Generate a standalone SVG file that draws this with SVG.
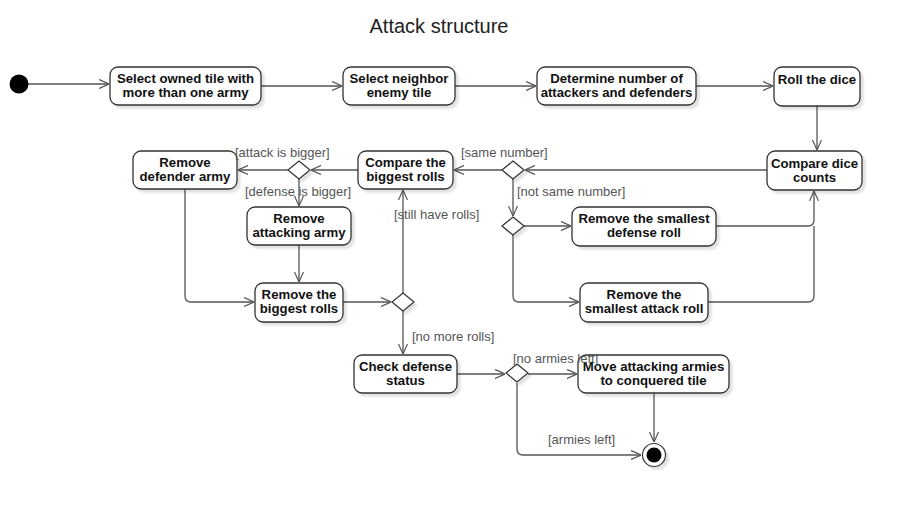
<svg xmlns="http://www.w3.org/2000/svg" width="902" height="508" viewBox="0 0 902 508">
<defs>
<marker id="arr" viewBox="0 0 10 10" refX="10" refY="5" markerWidth="10" markerHeight="10" markerUnits="userSpaceOnUse" orient="auto">
<path d="M0,0.5 L10,5 L0,9.5" fill="none" stroke="#555" stroke-width="1.2"/>
</marker>
<filter id="sh" x="-10%" y="-10%" width="130%" height="140%">
<feOffset dx="3" dy="3" in="SourceAlpha" result="o"/>
<feGaussianBlur in="o" stdDeviation="1.2" result="b"/>
<feComponentTransfer in="b" result="c"><feFuncA type="linear" slope="0.12"/></feComponentTransfer>
<feMerge><feMergeNode in="c"/><feMergeNode in="SourceGraphic"/></feMerge>
</filter>
</defs>
<style>
.n{fill:#fff;stroke:#333;stroke-width:1.3;filter:url(#sh)}
.t{font-family:"Liberation Sans",Arial,sans-serif;font-size:13.2px;font-weight:bold;fill:#111;text-anchor:middle}
.l{font-family:"Liberation Sans",Arial,sans-serif;font-size:13px;fill:#555}
.e{fill:none;stroke:#555;stroke-width:1.3}
.d{fill:#fff;stroke:#333;stroke-width:1.2;filter:url(#sh)}
</style>
<rect width="902" height="508" fill="#fff"/>
<text x="439" y="33" font-family="Liberation Sans,Arial,sans-serif" font-size="20" fill="#222" text-anchor="middle">Attack structure</text>

<g id="connectors">
<path class="e" d="M28,84 H109" marker-end="url(#arr)"/>
<path class="e" d="M261,86 H342" marker-end="url(#arr)"/>
<path class="e" d="M455,86 H536" marker-end="url(#arr)"/>
<path class="e" d="M696,86 H773" marker-end="url(#arr)"/>
<path class="e" d="M817,106 V150" marker-end="url(#arr)"/>
<path class="e" d="M767,170 H525" marker-end="url(#arr)"/>
<path class="e" d="M502,170 H454" marker-end="url(#arr)"/>
<path class="e" d="M513,179 V216" marker-end="url(#arr)"/>
<path class="e" d="M524,226 H571" marker-end="url(#arr)"/>
<path class="e" d="M513,235 V296 Q513,302 519,302 H579" marker-end="url(#arr)"/>
<path class="e" d="M716,226 H808 Q814,226 814,220 V191" marker-end="url(#arr)"/>
<path class="e" d="M708,302 H808 Q814,302 814,296 V226"/>
<path class="e" d="M358,170 H311" marker-end="url(#arr)"/>
<path class="e" d="M288,170 H238" marker-end="url(#arr)"/>
<path class="e" d="M299,179 V206" marker-end="url(#arr)"/>
<path class="e" d="M299,245 V282" marker-end="url(#arr)"/>
<path class="e" d="M185,189 V296 Q185,302 191,302 H254" marker-end="url(#arr)"/>
<path class="e" d="M343,302 H391" marker-end="url(#arr)"/>
<path class="e" d="M403,293 V190" marker-end="url(#arr)"/>
<path class="e" d="M403,311 V354" marker-end="url(#arr)"/>
<path class="e" d="M457,374 H505" marker-end="url(#arr)"/>
<path class="e" d="M528,374 H577" marker-end="url(#arr)"/>
<path class="e" d="M654,393 V442" marker-end="url(#arr)"/>
<path class="e" d="M517,383 V449 Q517,455 523,455 H641" marker-end="url(#arr)"/>
</g>

<g id="start"><circle cx="19" cy="84" r="9.5" fill="#000"/></g>

<g id="n1"><rect class="n" x="110" y="67" width="151" height="38" rx="8"/>
<text class="t" x="185.5" y="83">Select owned tile with</text><text class="t" x="185.5" y="97">more than one army</text></g>
<g id="n2"><rect class="n" x="343" y="67" width="112" height="38" rx="8"/>
<text class="t" x="399" y="83">Select neighbor</text><text class="t" x="399" y="97">enemy tile</text></g>
<g id="n3"><rect class="n" x="537" y="67" width="159" height="38" rx="8"/>
<text class="t" x="616.5" y="83">Determine number of</text><text class="t" x="616.5" y="97">attackers and defenders</text></g>
<g id="n4"><rect class="n" x="774" y="67" width="86" height="39" rx="8"/>
<text class="t" x="817" y="84">Roll the dice</text></g>
<g id="n5"><rect class="n" x="767" y="151" width="95" height="39" rx="8"/>
<text class="t" x="814.5" y="168">Compare dice</text><text class="t" x="814.5" y="182">counts</text></g>
<g id="d1"><path class="d" d="M513,161 L524,170 L513,179 L502,170 Z"/></g>
<g id="n6"><rect class="n" x="358" y="151" width="95" height="38" rx="8"/>
<text class="t" x="405.5" y="167">Compare the</text><text class="t" x="405.5" y="181">biggest rolls</text></g>
<g id="d2"><path class="d" d="M513,217 L524,226 L513,235 L502,226 Z"/></g>
<g id="n7"><rect class="n" x="572" y="207" width="144" height="39" rx="8"/>
<text class="t" x="644" y="223">Remove the smallest</text><text class="t" x="644" y="237">defense roll</text></g>
<g id="n8"><rect class="n" x="580" y="283" width="128" height="39" rx="8"/>
<text class="t" x="644" y="299">Remove the</text><text class="t" x="644" y="313">smallest attack roll</text></g>
<g id="d3"><path class="d" d="M299,161 L310,170 L299,179 L288,170 Z"/></g>
<g id="n9"><rect class="n" x="133" y="151" width="104" height="38" rx="8"/>
<text class="t" x="185" y="167">Remove</text><text class="t" x="185" y="181">defender army</text></g>
<g id="n10"><rect class="n" x="247" y="207" width="104" height="38" rx="8"/>
<text class="t" x="299" y="223">Remove</text><text class="t" x="299" y="237">attacking army</text></g>
<g id="n11"><rect class="n" x="255" y="283" width="88" height="39" rx="8"/>
<text class="t" x="299" y="299">Remove the</text><text class="t" x="299" y="313">biggest rolls</text></g>
<g id="d4"><path class="d" d="M403,293 L414,302 L403,311 L392,302 Z"/></g>
<g id="n12"><rect class="n" x="354" y="355" width="103" height="38" rx="8"/>
<text class="t" x="405.5" y="371">Check defense</text><text class="t" x="405.5" y="385">status</text></g>
<g id="d5"><path class="d" d="M517,364 L528,373 L517,382 L506,373 Z"/></g>
<g id="n13"><rect class="n" x="578" y="355" width="151" height="38" rx="8"/>
<text class="t" x="653.5" y="371">Move attacking armies</text><text class="t" x="653.5" y="385">to conquered tile</text></g>
<g id="end"><circle cx="654" cy="455" r="11.5" fill="#fff" stroke="#333" stroke-width="1.2" filter="url(#sh)"/><circle cx="654" cy="455" r="7.5" fill="#000"/></g>

<g id="labels">
<text class="l" x="235" y="157">[attack is bigger]</text>
<text class="l" x="245" y="196">[defense is bigger]</text>
<text class="l" x="461" y="157">[same number]</text>
<text class="l" x="517" y="196">[not same number]</text>
<text class="l" x="394" y="219">[still have rolls]</text>
<text class="l" x="412" y="341">[no more rolls]</text>
<text class="l" x="513" y="363">[no armies left]</text>
<text class="l" x="548" y="444">[armies left]</text>
</g>
</svg>
